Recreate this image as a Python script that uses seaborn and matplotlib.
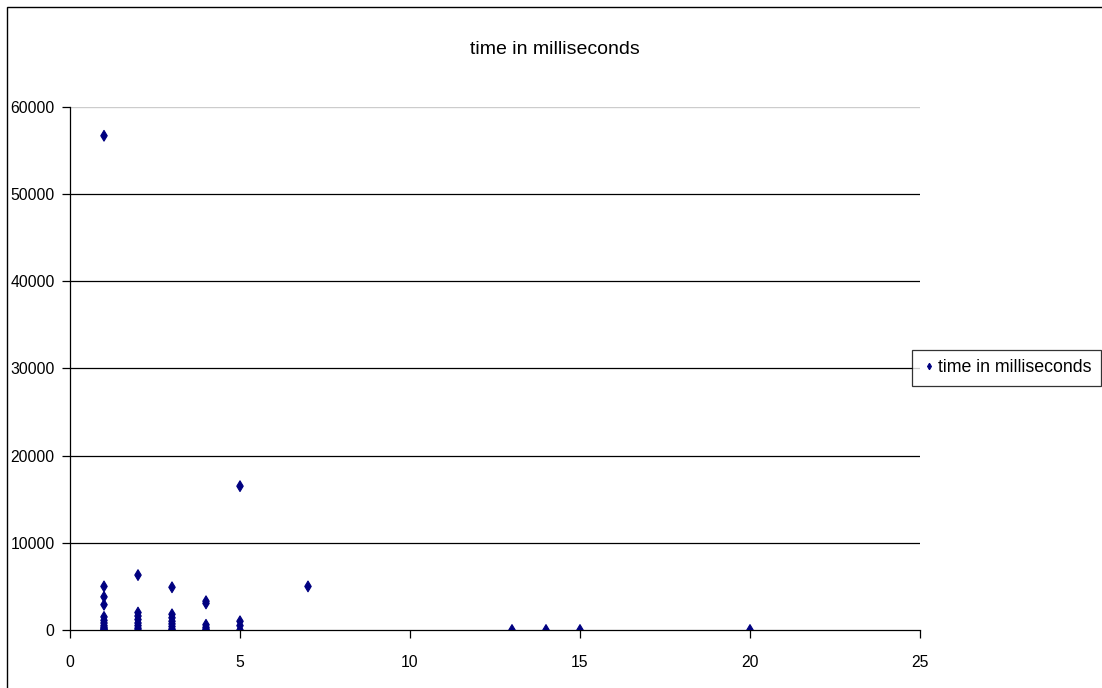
import matplotlib
matplotlib.use("Agg")
import matplotlib.pyplot as plt
import seaborn as sns
import pandas as pd
from matplotlib.patches import Rectangle

# number of items per request (x) and the time it took (y)
x_values = [1, 1, 1, 1, 1, 1, 1, 1, 1, 1, 1, 1,
            2, 2, 2, 2, 2, 2, 2, 2,
            3, 3, 3, 3, 3, 3, 3, 3,
            4, 4, 4, 4, 4, 4,
            5, 5, 5, 5,
            7, 13, 14, 15, 20]
y_values = [56700, 5000, 3800, 2900, 1500, 1100, 800, 500, 300, 150, 50, 0,
            6300, 2000, 1600, 1200, 800, 500, 200, 0,
            4900, 1800, 1400, 1000, 700, 400, 100, 0,
            3300, 3050, 600, 300, 100, 0,
            16500, 1000, 500, 0,
            5000, 0, 0, 0, 0]
series_name = "time in milliseconds"
x_ticks = [0, 5, 10, 15, 20, 25]
y_ticks = [0, 10000, 20000, 30000, 40000, 50000, 60000]

df = pd.DataFrame({"x": x_values, "y": y_values, "series": series_name})

sns.set_style("white")
plt.rcParams["font.family"] = ["Liberation Sans", "DejaVu Sans"]
plt.rcParams["text.color"] = "black"

fig = plt.figure(figsize=(11.02, 6.88), dpi=100)
ax = fig.add_axes([70 / 1102, 1 - 630 / 688, 850 / 1102, 523 / 688])

sns.scatterplot(data=df, x="x", y="y", hue="series", palette=["#000080"],
                marker="d", s=30, edgecolor="#000080", linewidth=0.8,
                ax=ax, legend=True, zorder=3)

ax.set_xlim(0, 25)
ax.set_ylim(0, 60000)
ax.set_xticks(x_ticks)
ax.set_yticks(y_ticks)
ax.set_xticklabels([str(t) for t in x_ticks], fontsize=11.3)
ax.set_yticklabels([str(t) for t in y_ticks], fontsize=11.3)
ax.set_xlabel("")
ax.set_ylabel("")

for v in y_ticks[1:-1]:
    ax.axhline(v, color="black", linewidth=0.9, zorder=1)
ax.axhline(60000, color="#cccccc", linewidth=1.0, zorder=1)

for side in ["top", "right"]:
    ax.spines[side].set_visible(False)
for side in ["left", "bottom"]:
    ax.spines[side].set_color("black")
    ax.spines[side].set_linewidth(0.9)
ax.tick_params(axis="both", direction="out", length=6, width=0.9,
               color="black", labelcolor="black",
               left=True, bottom=True)
ax.tick_params(axis="y", pad=5)
ax.tick_params(axis="x", pad=12)

fig.text(555 / 1102, 1 - 50 / 688, "time in milliseconds",
         ha="center", va="center", fontsize=14, color="black")

handles, labels = ax.get_legend_handles_labels()
leg = ax.legend(handles, labels, loc="center left",
                bbox_to_anchor=(912 / 1102, 1 - 368 / 688),
                bbox_transform=fig.transFigure, frameon=True,
                fancybox=False, shadow=False, fontsize=12.8,
                handletextpad=0.1, handlelength=0.8, borderpad=0.55,
                borderaxespad=0, markerscale=0.6)
leg.get_frame().set_edgecolor("black")
leg.get_frame().set_linewidth(0.9)
for t in leg.get_texts():
    t.set_color("black")

# chart-area border
fig.patches.append(Rectangle((7 / 1102, -0.1), 1.2, 1 - 7 / 688 + 0.1,
                             transform=fig.transFigure, fill=False,
                             edgecolor="black", linewidth=1.0))

fig.savefig("out.png", dpi=100)
